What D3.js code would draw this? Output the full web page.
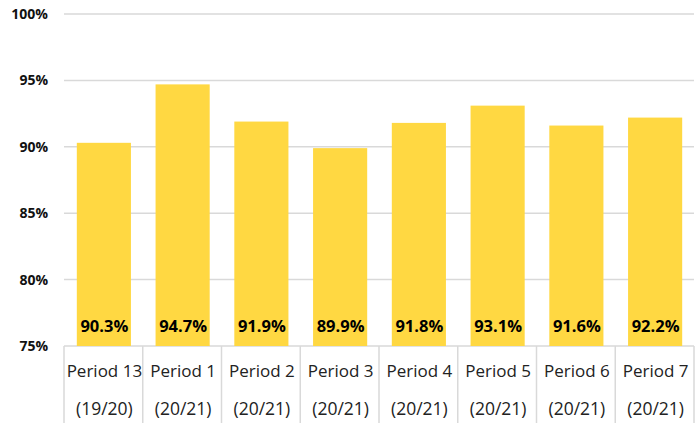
<!DOCTYPE html>
<html>
<head>
<meta charset="utf-8">
<script src="https://cdn.jsdelivr.net/npm/d3@7"></script>
<style>
  body { margin: 0; background: #fff; }
  svg { display: block; font-family: "Open Sans", "Liberation Sans", Arial, sans-serif; }
</style>
</head>
<body>
<svg id="chart" width="695" height="423"></svg>
<script>
const periods = ["Period 13", "Period 1", "Period 2", "Period 3", "Period 4", "Period 5", "Period 6", "Period 7"];
const years = ["(19/20)", "(20/21)", "(20/21)", "(20/21)", "(20/21)", "(20/21)", "(20/21)", "(20/21)"];
const values = [90.3, 94.7, 91.9, 89.9, 91.8, 93.1, 91.6, 92.2];
const yTicks = [75, 80, 85, 90, 95, 100];

const width = 695;
const height = 423;
const margin = { top: 14, right: 1, bottom: 77, left: 64 };

const svg = d3.select("#chart");
const g = svg.append("g")
  .attr("transform", "translate(" + margin.left + "," + margin.top + ")");

const innerW = width - margin.left - margin.right;
const innerH = height - margin.top - margin.bottom;

const x = d3.scaleBand()
  .domain(d3.range(periods.length))
  .range([0, innerW])
  .paddingInner(0.3)
  .paddingOuter(0.15);

const y = d3.scaleLinear()
  .domain([75, 100])
  .range([innerH, 0]);

// gridlines
g.append("g")
  .selectAll("line")
  .data(yTicks)
  .enter().append("line")
  .attr("x1", 0)
  .attr("x2", innerW)
  .attr("y1", d => y(d))
  .attr("y2", d => y(d))
  .attr("stroke", "#d9d9d9")
  .attr("stroke-width", 1.5);

// y labels
g.append("g")
  .selectAll("text")
  .data(yTicks)
  .enter().append("text")
  .attr("x", -16)
  .attr("y", d => y(d))
  .attr("dy", "0.35em")
  .attr("text-anchor", "end")
  .attr("font-size", 14)
  .attr("font-weight", "bold")
  .attr("fill", "#111")
  .text(d => d + "%");

// bars
g.append("g")
  .selectAll("rect")
  .data(values)
  .enter().append("rect")
  .attr("x", (d, i) => x(i) + 1)
  .attr("y", d => y(d))
  .attr("width", x.bandwidth() - 1)
  .attr("height", d => y(75) - y(d))
  .attr("fill", "#ffd842");

// value labels
g.append("g")
  .selectAll("text")
  .data(values)
  .enter().append("text")
  .attr("x", (d, i) => x(i) + x.bandwidth() / 2 + 1)
  .attr("y", innerH - 20)
  .attr("dy", "0.35em")
  .attr("text-anchor", "middle")
  .attr("font-size", 16.5)
  .attr("font-weight", "bold")
  .attr("fill", "#000")
  .text(d => d.toFixed(1) + "%");

// category separators
const step = x.step();
const bandStart = x(0) - x.paddingOuter() * step;
g.append("g")
  .selectAll("line")
  .data(d3.range(periods.length + 1))
  .enter().append("line")
  .attr("x1", i => bandStart + i * step)
  .attr("x2", i => bandStart + i * step)
  .attr("y1", innerH)
  .attr("y2", innerH + margin.bottom)
  .attr("stroke", "#d9d9d9")
  .attr("stroke-width", 1.5);

// category labels
const cat = g.append("g")
  .selectAll("g")
  .data(periods)
  .enter().append("g")
  .attr("transform", (d, i) => "translate(" + (x(i) + x.bandwidth() / 2 + 1) + "," + innerH + ")");

cat.append("text")
  .attr("y", 25)
  .attr("dy", "0.35em")
  .attr("text-anchor", "middle")
  .attr("font-size", 17)
  .attr("fill", "#222")
  .text(d => d);

cat.append("text")
  .attr("y", 63)
  .attr("dy", "0.35em")
  .attr("text-anchor", "middle")
  .attr("font-size", 17.5)
  .attr("fill", "#222")
  .text((d, i) => years[i]);
</script>
</body>
</html>
